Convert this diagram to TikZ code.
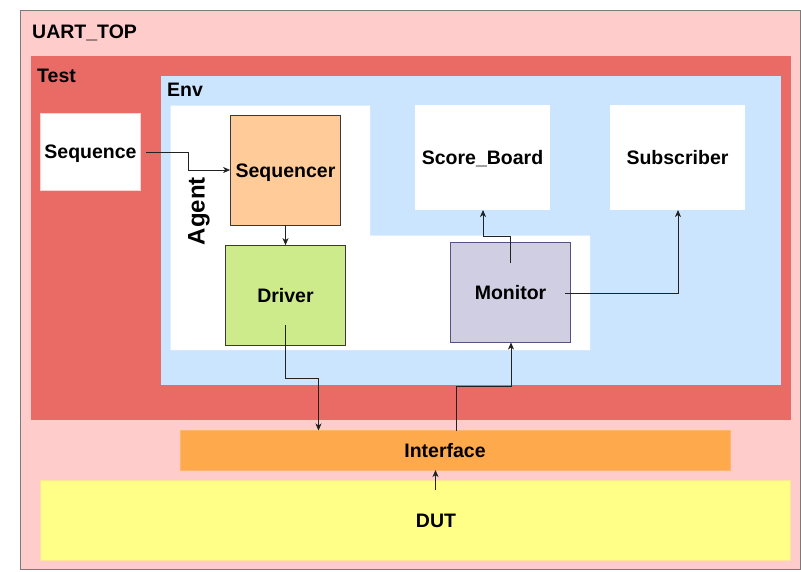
\documentclass[tikz,border=0pt]{standalone}
\usepackage{fontspec}
\setmainfont{Liberation Sans}
\usetikzlibrary{arrows.meta}
\definecolor{topfill}{HTML}{FFCCCC}
\definecolor{topline}{HTML}{7A7A7A}
\definecolor{testfill}{HTML}{EA6B66}
\definecolor{envfill}{HTML}{CCE5FF}
\definecolor{seqrfill}{HTML}{FFCC99}
\definecolor{drvfill}{HTML}{CDEB8B}
\definecolor{monfill}{HTML}{D0CEE2}
\definecolor{monline}{HTML}{56517E}
\definecolor{boxline}{HTML}{36393D}
\definecolor{iffill}{HTML}{FFA94D}
\definecolor{ifline}{HTML}{FFB570}
\definecolor{dutfill}{HTML}{FFFF88}
\definecolor{dutline}{HTML}{FFE599}
\definecolor{wireline}{HTML}{222222}
\begin{document}
\begin{tikzpicture}[x=1pt,y=-1pt,
  lbl/.style={font=\fontsize{19.5}{22}\selectfont\bfseries, inner sep=0pt, text height=14pt, text depth=0pt},
  blk/.style={lbl, rectangle, minimum width=#1, anchor=center},
  wire/.style={draw=wireline, line width=0.8pt, -{Stealth[length=7pt,width=6pt,inset=2pt]}},
]
\useasboundingbox (0,0) rectangle (801,571);
% containers
\draw[fill=topfill, draw=topline, line width=0.8pt] (20.5,10.5) rectangle (800.5,569.5);
\fill[testfill] (30.5,55.5) rectangle (790.5,420);
\fill[envfill] (160.5,75.5) rectangle (780.5,385);
\fill[white] (170.5,105.5) -- (370,105.5) -- (370,235.5) -- (590,235.5) -- (590,350) -- (170.5,350) -- cycle;
\node[lbl, anchor=west] (uart) at (32,31.3) {UART\_TOP};
\node[lbl, anchor=west] (test) at (37,75.7) {Test};
\node[lbl, anchor=west] (env) at (167,89.7) {Env};
\node[font=\fontsize{24}{26}\selectfont\bfseries, inner sep=0pt, rotate=90] (agent) at (199,211) {Agent};
% blocks
\node[blk=100pt, minimum height=77pt, fill=white, draw=topfill!70!red!40, line width=0.5pt] (seq) at (90.5,151.5) {Sequence};
\node[blk=110pt, minimum height=110pt, fill=seqrfill, draw=boxline, line width=0.7pt] (seqr) at (285.5,170) {Sequencer};
\node[blk=120pt, minimum height=100pt, fill=drvfill, draw=boxline, line width=0.7pt] (drv) at (285.5,295.5) {Driver};
\node[blk=135pt, minimum height=105pt, fill=white] (sb) at (482.5,157.5) {Score\_Board};
\node[blk=135pt, minimum height=105pt, fill=white] (sub) at (677.5,157.5) {Subscriber};
\node[blk=120pt, minimum height=100pt, fill=monfill, draw=monline, line width=0.7pt] (mon) at (510.5,292.5) {Monitor};
\fill[iffill] (180.5,430.5) rectangle (730.5,470);
\draw[ifline, line width=0.6pt] (180.5,430.5) rectangle (730.5,470);
\node[lbl] (iflbl) at (445,450.5) {Interface};
\fill[dutfill] (40.5,480.5) rectangle (790.5,560);
\draw[dutline, line width=0.5pt] (40.5,480.5) rectangle (790.5,560);
\node[lbl] (dutlbl) at (436,520) {DUT};
% connectors
\coordinate (seqout) at (146,152);
\draw[wire] (seqout) -- (188,152) -- (188,170) -- (seqr.west);
\draw[wire] (seqr.south) -- (drv.north);
\coordinate (mon1) at (510.5,263);
\draw[wire] (mon1) -- (510.5,236) -- (483,236) -- (483,210);
\coordinate (mon2) at (565,293);
\draw[wire] (mon2) -- (678,293) -- (678,210);
\coordinate (drvout) at (285.5,325);
\coordinate (ifin) at (318.5,430.5);
\draw[wire] (drvout) -- (285.5,378) -- (318.5,378) -- (ifin);
\coordinate (ifout) at (456,430.5);
\draw[wire] (ifout) -- (456,386.5) -- (511,386.5) -- (511,342.5);
\coordinate (dutout) at (435.5,490);
\coordinate (ifbot) at (435.5,470);
\draw[wire] (dutout) -- (ifbot);
\end{tikzpicture}
\end{document}
